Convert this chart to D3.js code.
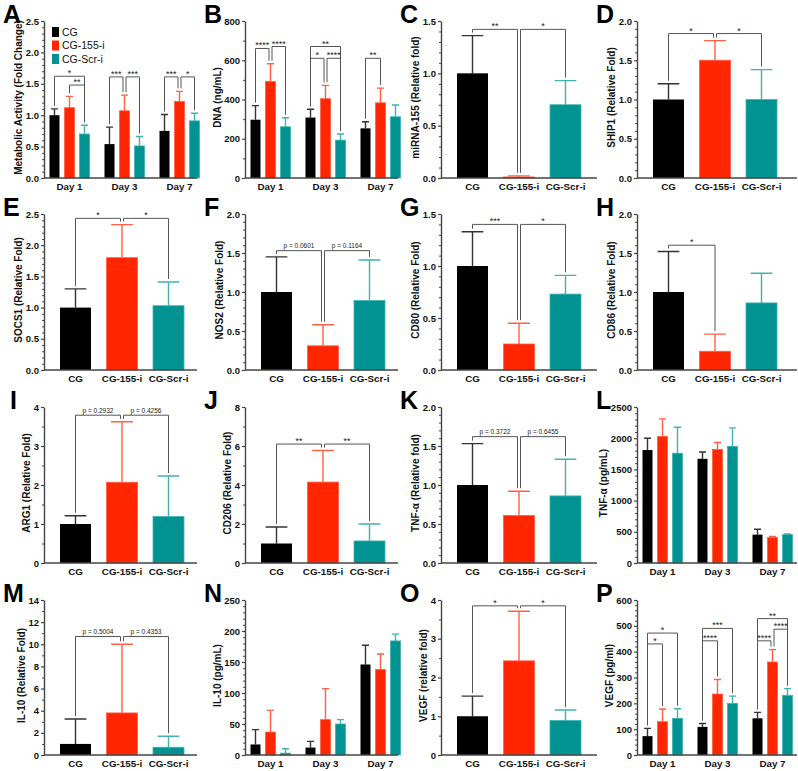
<!DOCTYPE html>
<html>
<head>
<meta charset="utf-8">
<script src="https://cdn.jsdelivr.net/npm/d3@7"></script>
<style>
  body { margin: 0; background: #fff; }
  svg { font-family: "Liberation Sans", Arial, sans-serif; }
</style>
</head>
<body>
<div id="fig"></div>
<script>
const WIDTH = 798;
const HEIGHT = 771;

const GROUPS = ["CG", "CG-155-i", "CG-Scr-i"];
const DAYS = ["Day 1", "Day 3", "Day 7"];
const COLORS = ["#000000", "#ff2600", "#009391"];
const ERR_COLORS = ["#333333", "#ff5f45", "#40b2b0"];

// grouped panels: one row per day, one value per group
// sig rows: [day, from, to, height, label]
const metabMean = [[1.00, 1.12, 0.70], [0.54, 1.07, 0.51], [0.75, 1.22, 0.91]];
const metabSd = [[0.10, 0.18, 0.14], [0.27, 0.25, 0.15], [0.26, 0.16, 0.12]];
const metabSig = [[0, 0, 2, 1.62, "*"], [0, 1, 2, 1.48, "**"], [1, 0, 1, 1.61, "***"],
                  [1, 1, 2, 1.61, "***"], [2, 0, 1, 1.61, "***"], [2, 1, 2, 1.61, "*"]];

const dnaMean = [[297, 492, 261], [308, 404, 193], [253, 383, 312]];
const dnaSd = [[72, 90, 46], [42, 68, 31], [34, 75, 60]];
const dnaSig = [[0, 0, 1, 660, "****"], [0, 1, 2, 670, "****"], [1, 0, 2, 670, "**"],
                [1, 0, 1, 610, "*"], [1, 1, 2, 610, "****"], [2, 0, 1, 610, "**"]];

const tnfPgMean = [[1810, 2030, 1760], [1670, 1820, 1870], [455, 410, 455]];
const tnfPgSd = [[190, 280, 415], [110, 110, 295], [85, 15, 10]];

const il10PgMean = [[17, 37, 3], [12, 57, 50], [146, 138, 184]];
const il10PgSd = [[24, 35, 7], [10, 50, 7], [31, 25, 11]];

const vegfPgMean = [[73, 129, 142], [109, 236, 200], [142, 360, 231]];
const vegfPgSd = [[30, 49, 37], [13, 56, 28], [23, 48, 26]];
const vegfPgSig = [[0, 0, 2, 472, "*"], [0, 0, 1, 430, "*"], [1, 0, 2, 490, "***"],
                   [1, 0, 1, 442, "****"], [2, 0, 2, 528, "**"], [2, 1, 2, 487, "****"],
                   [2, 0, 1, 442, "****"]];

// single panels: one value per group, sig rows: [from, to, height, label]
const mirMean = [1.00, 0.01, 0.70];
const mirSd = [0.36, 0.01, 0.23];
const mirSig = [[0, 1, 1.42, "**"], [1, 2, 1.42, "*"]];

const ship1Mean = [1.00, 1.50, 1.00];
const ship1Sd = [0.20, 0.25, 0.38];
const ship1Sig = [[0, 1, 1.84, "*"], [1, 2, 1.84, "*"]];

const socs1Mean = [1.00, 1.80, 1.03];
const socs1Sd = [0.30, 0.53, 0.38];
const socs1Sig = [[0, 1, 2.43, "*"], [1, 2, 2.43, "*"]];

const nos2Mean = [1.00, 0.31, 0.89];
const nos2Sd = [0.45, 0.27, 0.52];
const nos2Sig = [[0, 1, 1.53, "p = 0.0601"], [1, 2, 1.53, "p = 0.1164"]];

const cd80Mean = [1.00, 0.25, 0.73];
const cd80Sd = [0.33, 0.20, 0.18];
const cd80Sig = [[0, 1, 1.40, "***"], [1, 2, 1.40, "*"]];

const cd86Mean = [1.00, 0.24, 0.86];
const cd86Sd = [0.52, 0.22, 0.38];
const cd86Sig = [[0, 1, 1.60, "*"]];

const arg1Mean = [1.00, 2.07, 1.19];
const arg1Sd = [0.21, 1.55, 1.04];
const arg1Sig = [[0, 1, 3.79, "p = 0.2932"], [1, 2, 3.79, "p = 0.4256"]];

const cd206Mean = [1.00, 4.15, 1.13];
const cd206Sd = [0.85, 1.62, 0.87];
const cd206Sig = [[0, 1, 6.1, "**"], [1, 2, 6.1, "**"]];

const tnfMean = [1.00, 0.61, 0.86];
const tnfSd = [0.53, 0.31, 0.47];
const tnfSig = [[0, 1, 1.62, "p = 0.3722"], [1, 2, 1.62, "p = 0.6455"]];

const il10Mean = [1.0, 3.8, 0.7];
const il10Sd = [2.25, 6.2, 1.0];
const il10Sig = [[0, 1, 10.7, "p = 0.5004"], [1, 2, 10.7, "p = 0.4353"]];

const vegfMean = [1.00, 2.43, 0.89];
const vegfSd = [0.52, 1.28, 0.27];
const vegfSig = [[0, 1, 3.85, "*"], [1, 2, 3.85, "*"]];

// layout of the 4x4 grid
const COL_X = [44, 245, 441, 637];
const COL_R = [197, 398, 597, 797];
const ROW_TOP = [21, 214, 407, 600];
const ROW_BOT = [178, 370, 563, 755];
const LETTER_X = [3, 204, 400, 596];
const LETTER_Y = [23, 216, 409, 602];

const PANELS = [
  {letter: "A", row: 0, col: 0, title: "Metabolic Activity (Fold Change)", grouped: true,
   mean: metabMean, sd: metabSd, sig: metabSig, yMax: 2.5, step: 0.5, minor: 0.1, fmt: ".1f"},
  {letter: "B", row: 0, col: 1, title: "DNA (ng/mL)", grouped: true,
   mean: dnaMean, sd: dnaSd, sig: dnaSig, yMax: 800, step: 200, minor: 100, fmt: "d"},
  {letter: "C", row: 0, col: 2, title: "miRNA-155 (Relative fold)",
   mean: mirMean, sd: mirSd, sig: mirSig, yMax: 1.5, step: 0.5, minor: 0.1, fmt: ".1f"},
  {letter: "D", row: 0, col: 3, title: "SHIP1 (Relative Fold)",
   mean: ship1Mean, sd: ship1Sd, sig: ship1Sig, yMax: 2.0, step: 0.5, minor: 0.1, fmt: ".1f"},
  {letter: "E", row: 1, col: 0, title: "SOCS1 (Relative Fold)",
   mean: socs1Mean, sd: socs1Sd, sig: socs1Sig, yMax: 2.5, step: 0.5, minor: 0.1, fmt: ".1f"},
  {letter: "F", row: 1, col: 1, title: "NOS2 (Relative Fold)",
   mean: nos2Mean, sd: nos2Sd, sig: nos2Sig, yMax: 2.0, step: 0.5, minor: 0.1, fmt: ".1f"},
  {letter: "G", row: 1, col: 2, title: "CD80 (Relative Fold)",
   mean: cd80Mean, sd: cd80Sd, sig: cd80Sig, yMax: 1.5, step: 0.5, minor: 0.1, fmt: ".1f"},
  {letter: "H", row: 1, col: 3, title: "CD86 (Relative Fold)",
   mean: cd86Mean, sd: cd86Sd, sig: cd86Sig, yMax: 2.0, step: 0.5, minor: 0.1, fmt: ".1f"},
  {letter: "I", row: 2, col: 0, title: "ARG1 (Relative Fold)",
   mean: arg1Mean, sd: arg1Sd, sig: arg1Sig, yMax: 4, step: 1, minor: 0.5, fmt: "d"},
  {letter: "J", row: 2, col: 1, title: "CD206 (Relative Fold)",
   mean: cd206Mean, sd: cd206Sd, sig: cd206Sig, yMax: 8, step: 2, minor: 1, fmt: "d"},
  {letter: "K", row: 2, col: 2, title: "TNF-α (Relative fold)",
   mean: tnfMean, sd: tnfSd, sig: tnfSig, yMax: 2.0, step: 0.5, minor: 0.1, fmt: ".1f"},
  {letter: "L", row: 2, col: 3, title: "TNF-α (pg/mL)", grouped: true,
   mean: tnfPgMean, sd: tnfPgSd, sig: [], yMax: 2500, step: 500, minor: 100, fmt: "d"},
  {letter: "M", row: 3, col: 0, title: "IL-10 (Relative Fold)",
   mean: il10Mean, sd: il10Sd, sig: il10Sig, yMax: 14, step: 2, minor: 1, fmt: "d"},
  {letter: "N", row: 3, col: 1, title: "IL-10 (pg/mL)", grouped: true,
   mean: il10PgMean, sd: il10PgSd, sig: [], yMax: 250, step: 50, minor: 10, fmt: "d"},
  {letter: "O", row: 3, col: 2, title: "VEGF (relative fold)",
   mean: vegfMean, sd: vegfSd, sig: vegfSig, yMax: 4, step: 1, minor: 0.5, fmt: "d"},
  {letter: "P", row: 3, col: 3, title: "VEGF (pg/ml)", grouped: true,
   mean: vegfPgMean, sd: vegfPgSd, sig: vegfPgSig, yMax: 600, step: 100, minor: 20, fmt: "d"}
];

const svg = d3.select("#fig").append("svg")
    .attr("width", WIDTH)
    .attr("height", HEIGHT);

function drawPanel(p) {
  const x0 = COL_X[p.col], x1 = COL_R[p.col];
  const yT = ROW_TOP[p.row], yB = ROW_BOT[p.row];
  const g = svg.append("g");

  const y = d3.scaleLinear().domain([0, p.yMax]).range([yB, yT]);

  // normalise single panels to one group
  const means = p.grouped ? p.mean : [p.mean];
  const sds = p.grouped ? p.sd : [p.sd];
  const sig = p.grouped ? p.sig : p.sig.map(s => [0].concat(s));

  let cx, bw, xAxisScale;
  if (p.grouped) {
    const xd = d3.scaleBand().domain(DAYS).range([x0 - 2, x0 + 163]);
    const xs = d3.scaleBand().domain(GROUPS).range([-20, 20]).paddingInner(1 / 3);
    bw = xs.bandwidth();
    cx = (d, s) => xd(DAYS[d]) + xd.bandwidth() / 2 + xs(GROUPS[s]) + bw / 2;
    xAxisScale = xd;
  } else {
    const xc = d3.scaleBand().domain(GROUPS).range([x0 + 16, x0 + 140]).paddingInner(1 / 3);
    bw = xc.bandwidth();
    cx = (d, s) => xc(GROUPS[s]) + bw / 2;
    xAxisScale = xc;
  }

  // flatten into bar records
  const bars = [];
  means.forEach((row, d) => row.forEach((v, s) => {
    bars.push({d: d, s: s, v: v, sd: sds[d][s]});
  }));

  // error bars (upward only)
  const capW = bw * 0.7;
  g.selectAll(".err")
    .data(bars)
    .enter()
    .append("path")
    .attr("d", b => {
      const c = cx(b.d, b.s), top = y(b.v + b.sd);
      return "M" + c + "," + y(b.v) + "V" + top + "M" + (c - capW / 2) + "," + top + "H" + (c + capW / 2);
    })
    .attr("stroke", b => ERR_COLORS[b.s])
    .attr("stroke-width", 1.4)
    .attr("fill", "none");

  g.selectAll(".bar")
    .data(bars)
    .enter()
    .append("rect")
    .attr("x", b => cx(b.d, b.s) - bw / 2)
    .attr("y", b => y(b.v))
    .attr("width", bw)
    .attr("height", b => yB - y(b.v))
    .attr("fill", b => COLORS[b.s])
    .attr("stroke", b => b.s === 0 ? "none" : ERR_COLORS[b.s])
    .attr("stroke-width", 0.8);

  // significance brackets
  sig.forEach(sg => {
    const [d, a, b, h, label] = sg;
    const sharedLeft = sig.some(o => o !== sg && o[0] === d && o[2] === a);
    const sharedRight = sig.some(o => o !== sg && o[0] === d && o[1] === b);
    const xa = cx(d, a) + (sharedLeft ? 1.5 : 0);
    const xb = cx(d, b) - (sharedRight ? 1.5 : 0);
    const yh = y(h);
    const ya = y(means[d][a] + sds[d][a]) - 3;
    const yb = y(means[d][b] + sds[d][b]) - 3;
    g.append("path")
      .attr("d", "M" + xa + "," + ya + "V" + yh + "H" + xb + "V" + yb)
      .attr("fill", "none")
      .attr("stroke", "#555")
      .attr("stroke-width", 1);
    const isP = label.startsWith("p");
    g.append("text")
      .attr("x", (xa + xb) / 2)
      .attr("y", yh - (isP ? 2.5 : 0))
      .attr("text-anchor", "middle")
      .attr("font-size", isP ? "6.5px" : "9px")
      .attr("fill", "#222")
      .text(label);
  });

  // y axis with minor ticks
  const ticks = d3.range(0, p.yMax + p.step / 2, p.step);
  const minorTicks = d3.range(0, p.yMax + p.minor / 2, p.minor)
    .filter(v => Math.abs(v / p.step - Math.round(v / p.step)) > 1e-6);

  g.append("g")
    .attr("transform", "translate(" + x0 + ",0)")
    .call(d3.axisLeft(y).tickValues(minorTicks).tickSize(2).tickFormat(""))
    .call(a => a.select(".domain").remove())
    .selectAll("line").attr("stroke", "#444").attr("stroke-width", 1);

  const yAxis = g.append("g")
    .attr("transform", "translate(" + x0 + ",0)")
    .call(d3.axisLeft(y).tickValues(ticks).tickSize(3).tickSizeOuter(0).tickPadding(2)
      .tickFormat(d3.format(p.fmt)));
  yAxis.select(".domain").attr("stroke", "#444").attr("stroke-width", 1.4);
  yAxis.selectAll("line").attr("stroke", "#444").attr("stroke-width", 1.2);
  yAxis.selectAll("text")
    .attr("font-size", "9.5px")
    .attr("font-weight", "bold")
    .attr("fill", "#111")
    .attr("font-family", "Liberation Sans, Arial, sans-serif");

  // x axis: plain line + category labels
  g.append("line")
    .attr("x1", x0).attr("x2", x1)
    .attr("y1", yB).attr("y2", yB)
    .attr("stroke", "#444")
    .attr("stroke-width", 1.4);

  const xAxis = g.append("g")
    .attr("transform", "translate(0," + yB + ")")
    .call(d3.axisBottom(xAxisScale).tickSize(0).tickPadding(5));
  xAxis.select(".domain").remove();
  xAxis.selectAll("text")
    .attr("font-size", "9.8px")
    .attr("font-weight", "bold")
    .attr("fill", "#111")
    .attr("font-family", "Liberation Sans, Arial, sans-serif");

  // y title, placed left of the tick labels
  const box = yAxis.node().getBBox();
  const tx = x0 + box.x - 7;
  g.append("text")
    .attr("transform", "translate(" + tx + "," + ((yT + yB) / 2 - 2) + ") rotate(-90)")
    .attr("text-anchor", "middle")
    .attr("dy", "0.35em")
    .attr("font-size", "10px")
    .attr("font-weight", "bold")
    .attr("fill", "#111")
    .text(p.title);

  // panel letter
  svg.append("text")
    .attr("x", LETTER_X[p.col] + (p.letter === "I" ? 7 : 0))
    .attr("y", LETTER_Y[p.row])
    .attr("font-family", "'Liberation Sans', Arial, sans-serif")
    .attr("font-size", "25px")
    .attr("font-weight", "bold")
    .text(p.letter);
}

PANELS.forEach(drawPanel);

// legend inside panel A
const legend = svg.append("g").attr("transform", "translate(52,27)");
GROUPS.forEach((name, i) => {
  legend.append("rect")
    .attr("x", 0).attr("y", i * 13.5)
    .attr("width", 7).attr("height", 10)
    .attr("fill", COLORS[i]);
  legend.append("text")
    .attr("x", 10).attr("y", i * 13.5 + 5)
    .attr("dy", "0.35em")
    .attr("font-size", "10.5px")
    .attr("fill", "#111")
    .text(name);
});
</script>
</body>
</html>
